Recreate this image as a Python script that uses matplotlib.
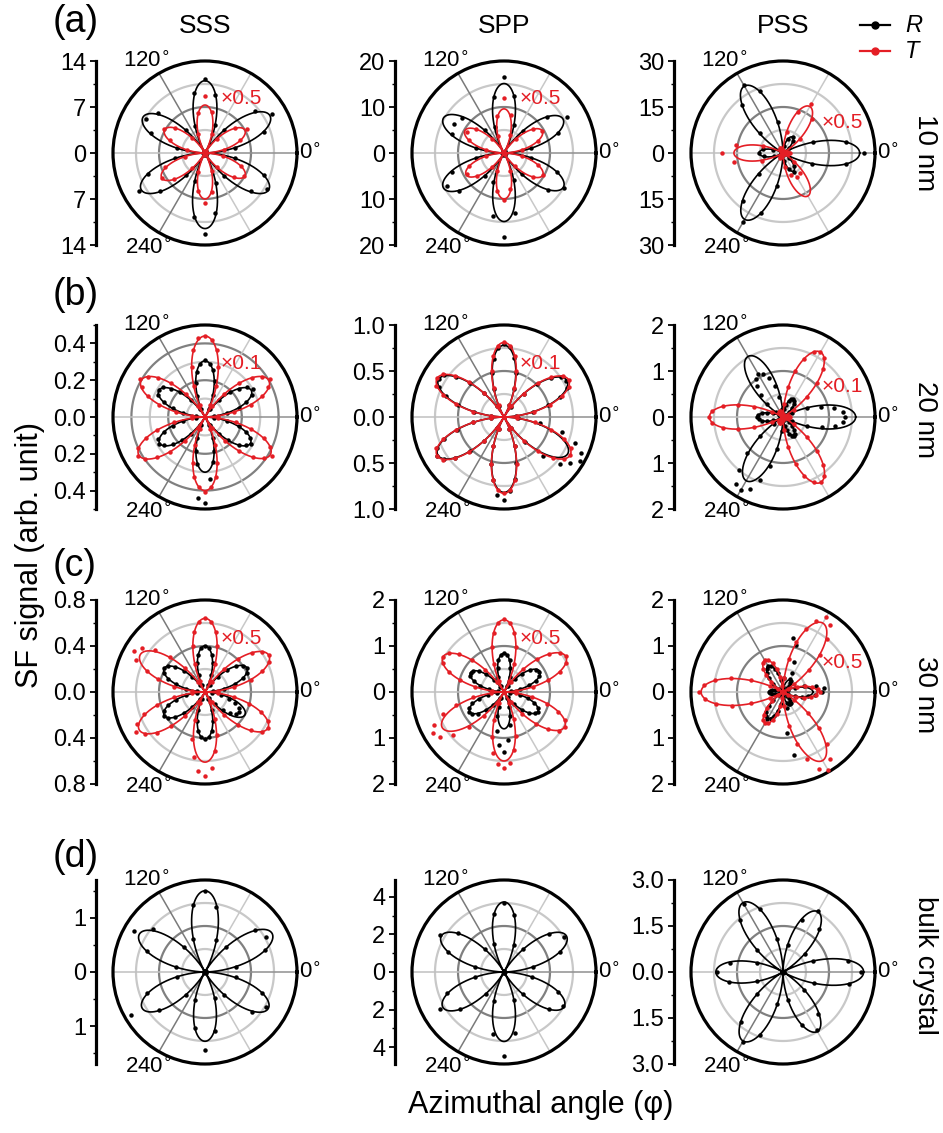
import numpy as np
import matplotlib
matplotlib.use('Agg')
import matplotlib.pyplot as plt
from matplotlib.lines import Line2D
from matplotlib.ticker import FixedLocator

plt.rcParams['font.family'] = ['Liberation Sans', 'DejaVu Sans']

W, H = 943, 1133
RED = '#e41e25'

# angles of the measured points (deg)
ang10 = np.arange(0, 360, 10)
ang5 = np.arange(0, 360, 5)

# fitted petal heights, one per petal (petals every 60 deg from the base angle)
# ---- (a) 10 nm ----
fit_a_sss_R = [11.4, 11.0, 10.9, 11.2, 11.5, 11.2]
fit_a_sss_T = [7.0, 7.3, 7.1, 7.6, 7.0, 7.0]
fit_a_spp_R = [14.8, 15.1, 15.2, 15.2, 14.9, 14.9]
fit_a_spp_T = [9.6, 9.6, 9.8, 9.5, 10.0, 9.7]
fit_a_pss_R = [25.0, 6.0, 25.2, 7.8, 25.0, 6.8]
fit_a_pss_T = [2.0, 17.5, 2.0, 16.0, 2.0, 16.2]

a_sss_R = [0.3, 4.7, 9.5, 11.8, 9.9, 4.6, 0.4, 4.5, 9.0, 11.2, 9.3, 4.4,
           0.2, 4.6, 9.4, 10.4, 8.8, 4.3, 0.3, 4.7, 9.2, 11.6, 9.0, 4.4,
           0.4, 4.6, 9.9, 12.3, 9.2, 4.8, 0.3, 4.5, 9.1, 10.9, 9.6, 4.7]
a_sss_T = [0.2, 2.9, 5.7, 7.3, 6.0, 2.8, 0.3, 3.0, 6.4, 8.6, 6.2, 3.1,
           0.3, 3.0, 5.9, 7.2, 5.7, 2.8, 0.2, 3.1, 6.4, 7.6, 6.1, 3.0,
           0.3, 3.0, 5.9, 7.6, 6.0, 2.9, 0.2, 2.8, 5.7, 6.9, 5.9, 2.8]
a_spp_R = [0.4, 6.0, 12.4, 15.8, 12.2, 6.3, 0.5, 6.4, 12.6, 16.6, 12.3, 6.0,
           0.3, 6.5, 11.9, 12.5, 12.0, 6.1, 0.4, 6.2, 12.1, 14.2, 12.8, 6.4,
           0.5, 6.8, 14.0, 18.2, 13.3, 6.2, 0.4, 6.1, 12.4, 15.0, 12.3, 6.0]
a_spp_T = [0.3, 3.9, 7.9, 9.6, 8.1, 4.1, 0.2, 4.1, 8.3, 12.0, 8.2, 4.0,
           0.3, 4.1, 8.0, 9.3, 8.2, 3.9, 0.3, 4.0, 8.1, 9.2, 7.8, 4.0,
           0.2, 4.2, 8.4, 10.3, 8.0, 4.1, 0.3, 3.8, 8.1, 9.7, 7.8, 4.0]
a_pss_R = [26.5, 21.0, 10.5, 0.5, 2.6, 5.2, 6.2, 5.0, 2.4, 0.8, 10.2, 21.5,
           25.5, 20.6, 10.0, 0.6, 3.3, 6.6, 7.9, 6.4, 3.1, 0.6, 10.4, 20.5,
           26.0, 20.9, 10.8, 0.5, 2.7, 5.6, 7.0, 5.4, 2.6, 0.5, 10.1, 20.8]
a_pss_T = [2.2, 1.7, 0.8, 0.4, 7.2, 14.6, 18.3, 14.2, 7.0, 0.3, 0.9, 1.6,
           2.0, 1.6, 0.8, 0.5, 7.0, 15.5, 19.8, 16.3, 7.4, 0.4, 0.8, 1.7,
           1.8, 1.5, 0.8, 0.3, 4.5, 7.8, 9.0, 8.5, 4.6, 0.4, 0.8, 1.7]

# ---- (b) 20 nm ----
fit_b_sss_R = [0.29, 0.305, 0.29, 0.285, 0.30, 0.285]
fit_b_sss_T = [0.40, 0.44, 0.40, 0.415, 0.40, 0.41]
fit_b_spp_R = [0.79, 0.78, 0.82, 0.83, 0.82, 0.80]
fit_b_spp_T = [0.81, 0.81, 0.84, 0.84, 0.83, 0.83]
fit_b_pss_R = [1.58, 0.45, 1.52, 0.56, 1.60, 0.45]
fit_b_pss_T = [0.15, 1.63, 0.15, 1.60, 0.15, 1.64]

b_sss_R = [0.00, 0.05, 0.12, 0.19, 0.24, 0.28, 0.30, 0.28, 0.24, 0.19, 0.12, 0.05,
           0.00, 0.05, 0.13, 0.20, 0.26, 0.29, 0.31, 0.29, 0.25, 0.19, 0.12, 0.05,
           0.00, 0.05, 0.12, 0.19, 0.24, 0.28, 0.29, 0.28, 0.24, 0.18, 0.12, 0.05,
           0.00, 0.05, 0.12, 0.18, 0.24, 0.28, 0.29, 0.27, 0.23, 0.18, 0.12, 0.05,
           0.00, 0.05, 0.12, 0.19, 0.26, 0.44, 0.47, 0.34, 0.25, 0.19, 0.12, 0.05,
           0.00, 0.05, 0.12, 0.18, 0.24, 0.27, 0.29, 0.27, 0.24, 0.19, 0.12, 0.05]
b_sss_T = [0.00, 0.07, 0.16, 0.26, 0.33, 0.38, 0.41, 0.38, 0.33, 0.26, 0.16, 0.07,
           0.00, 0.07, 0.18, 0.28, 0.37, 0.42, 0.44, 0.43, 0.37, 0.28, 0.18, 0.07,
           0.00, 0.07, 0.16, 0.26, 0.33, 0.38, 0.41, 0.38, 0.33, 0.26, 0.16, 0.07,
           0.00, 0.07, 0.17, 0.27, 0.34, 0.40, 0.42, 0.40, 0.34, 0.27, 0.17, 0.07,
           0.00, 0.07, 0.16, 0.26, 0.33, 0.38, 0.41, 0.38, 0.33, 0.26, 0.16, 0.07,
           0.00, 0.07, 0.17, 0.26, 0.34, 0.39, 0.42, 0.39, 0.34, 0.26, 0.17, 0.07]
b_spp_R = [0.00, 0.13, 0.32, 0.50, 0.65, 0.75, 0.78, 0.76, 0.66, 0.51, 0.33, 0.13,
           0.00, 0.14, 0.32, 0.50, 0.65, 0.76, 0.79, 0.75, 0.64, 0.50, 0.32, 0.13,
           0.00, 0.14, 0.34, 0.53, 0.68, 0.79, 0.82, 0.78, 0.67, 0.52, 0.33, 0.14,
           0.00, 0.14, 0.34, 0.53, 0.69, 0.80, 0.84, 0.80, 0.69, 0.53, 0.34, 0.14,
           0.00, 0.14, 0.34, 0.53, 0.69, 0.85, 0.90, 0.81, 0.68, 0.52, 0.34, 0.14,
           0.00, 0.14, 0.36, 0.60, 0.80, 0.88, 0.95, 0.92, 0.82, 0.65, 0.40, 0.15]
b_spp_T = [0.00, 0.14, 0.33, 0.52, 0.67, 0.78, 0.81, 0.78, 0.67, 0.52, 0.33, 0.14,
           0.00, 0.14, 0.33, 0.52, 0.67, 0.78, 0.81, 0.78, 0.67, 0.52, 0.33, 0.14,
           0.00, 0.14, 0.34, 0.54, 0.70, 0.81, 0.84, 0.81, 0.70, 0.54, 0.34, 0.14,
           0.00, 0.14, 0.34, 0.54, 0.70, 0.81, 0.84, 0.81, 0.70, 0.54, 0.34, 0.14,
           0.00, 0.14, 0.34, 0.53, 0.69, 0.80, 0.83, 0.80, 0.69, 0.53, 0.34, 0.14,
           0.00, 0.14, 0.34, 0.53, 0.69, 0.80, 0.83, 0.80, 0.69, 0.53, 0.34, 0.14]
b_pss_R = [1.35, 1.30, 1.12, 0.86, 0.55, 0.22, 0.02, 0.08, 0.18, 0.29, 0.37, 0.43,
           0.44, 0.42, 0.36, 0.28, 0.18, 0.07, 0.02, 0.18, 0.44, 0.69, 0.90, 1.04,
           1.08, 1.02, 0.88, 0.68, 0.44, 0.18, 0.02, 0.10, 0.23, 0.36, 0.47, 0.54,
           0.56, 0.53, 0.46, 0.35, 0.22, 0.09, 0.03, 0.25, 0.65, 1.10, 1.50, 1.78,
           1.82, 1.72, 1.45, 1.10, 0.70, 0.30, 0.05, 0.08, 0.19, 0.30, 0.39, 0.45,
           0.47, 0.44, 0.38, 0.29, 0.18, 0.07, 0.03, 0.22, 0.55, 0.88, 1.15, 1.32]
b_pss_T = [0.15, 0.14, 0.12, 0.10, 0.06, 0.03, 0.02, 0.28, 0.67, 1.04, 1.35, 1.56,
           1.63, 1.57, 1.35, 1.04, 0.67, 0.28, 0.02, 0.03, 0.06, 0.10, 0.12, 0.14,
           0.15, 0.14, 0.12, 0.10, 0.06, 0.03, 0.02, 0.27, 0.66, 1.02, 1.33, 1.54,
           1.61, 1.54, 1.33, 1.02, 0.66, 0.27, 0.02, 0.03, 0.06, 0.10, 0.12, 0.14,
           0.15, 0.14, 0.12, 0.10, 0.06, 0.03, 0.02, 0.28, 0.67, 1.05, 1.36, 1.57,
           1.64, 1.57, 1.36, 1.05, 0.67, 0.28, 0.02, 0.03, 0.06, 0.10, 0.12, 0.14]

# ---- (c) 30 nm ----
fit_c_sss_R = [0.42, 0.40, 0.41, 0.41, 0.41, 0.40]
fit_c_sss_T = [0.64, 0.64, 0.65, 0.66, 0.61, 0.63]
fit_c_spp_R = [0.90, 0.84, 0.84, 0.86, 0.80, 0.85]
fit_c_spp_T = [1.55, 1.57, 1.53, 1.55, 1.50, 1.52]
fit_c_pss_R = [0.65, 0.30, 0.65, 0.30, 0.65, 0.30]
fit_c_pss_T = [0.75, 1.73, 0.80, 1.78, 0.78, 1.72]

c_sss_R = [0.00, 0.07, 0.17, 0.27, 0.35, 0.40, 0.42, 0.40, 0.35, 0.27, 0.17, 0.07,
           0.00, 0.07, 0.16, 0.26, 0.33, 0.38, 0.40, 0.38, 0.33, 0.26, 0.16, 0.07,
           0.00, 0.07, 0.17, 0.26, 0.34, 0.39, 0.41, 0.39, 0.34, 0.26, 0.17, 0.07,
           0.00, 0.07, 0.17, 0.26, 0.34, 0.39, 0.41, 0.39, 0.34, 0.26, 0.17, 0.07,
           0.00, 0.07, 0.17, 0.26, 0.34, 0.39, 0.41, 0.39, 0.34, 0.26, 0.17, 0.07,
           0.00, 0.06, 0.14, 0.22, 0.28, 0.33, 0.34, 0.33, 0.28, 0.22, 0.14, 0.06]
c_sss_T = [0.00, 0.11, 0.26, 0.41, 0.53, 0.61, 0.64, 0.61, 0.53, 0.41, 0.26, 0.11,
           0.00, 0.11, 0.26, 0.41, 0.53, 0.61, 0.64, 0.61, 0.53, 0.41, 0.26, 0.11,
           0.00, 0.11, 0.27, 0.43, 0.57, 0.67, 0.71, 0.66, 0.54, 0.42, 0.27, 0.11,
           0.00, 0.11, 0.27, 0.43, 0.56, 0.65, 0.69, 0.64, 0.55, 0.42, 0.27, 0.11,
           0.00, 0.11, 0.26, 0.42, 0.57, 0.69, 0.73, 0.66, 0.52, 0.39, 0.25, 0.10,
           0.00, 0.11, 0.26, 0.40, 0.52, 0.60, 0.63, 0.60, 0.52, 0.40, 0.26, 0.11]
c_spp_R = [0.00, 0.15, 0.36, 0.56, 0.73, 0.84, 0.88, 0.84, 0.73, 0.56, 0.36, 0.15,
           0.00, 0.14, 0.35, 0.54, 0.70, 0.81, 0.85, 0.81, 0.70, 0.54, 0.35, 0.14,
           0.00, 0.14, 0.34, 0.54, 0.70, 0.81, 0.84, 0.81, 0.70, 0.54, 0.34, 0.14,
           0.00, 0.15, 0.36, 0.56, 0.73, 0.84, 0.88, 0.84, 0.73, 0.56, 0.36, 0.15,
           0.00, 0.14, 0.34, 0.55, 0.85, 1.15, 1.30, 1.05, 0.72, 0.53, 0.34, 0.14,
           0.00, 0.14, 0.35, 0.54, 0.70, 0.81, 0.85, 0.81, 0.70, 0.54, 0.35, 0.14]
c_spp_T = [0.00, 0.26, 0.64, 1.00, 1.29, 1.49, 1.56, 1.49, 1.29, 1.00, 0.64, 0.26,
           0.00, 0.27, 0.65, 1.01, 1.31, 1.51, 1.58, 1.51, 1.31, 1.01, 0.65, 0.27,
           0.00, 0.26, 0.63, 0.98, 1.27, 1.47, 1.53, 1.47, 1.27, 0.98, 0.63, 0.26,
           0.00, 0.28, 0.68, 1.08, 1.42, 1.68, 1.78, 1.70, 1.44, 1.08, 0.68, 0.28,
           0.00, 0.27, 0.65, 1.02, 1.35, 1.58, 1.66, 1.55, 1.28, 0.98, 0.62, 0.26,
           0.00, 0.26, 0.62, 0.97, 1.26, 1.46, 1.52, 1.46, 1.26, 0.97, 0.62, 0.26]
c_pss_R = [0.85, 0.90, 0.72, 0.48, 0.28, 0.11, 0.02, 0.05, 0.12, 0.19, 0.25, 0.29,
           0.32, 0.45, 0.70, 1.05, 1.20, 0.30, 0.02, 0.11, 0.27, 0.42, 0.54, 0.62,
           0.66, 0.62, 0.54, 0.42, 0.27, 0.11, 0.02, 0.05, 0.12, 0.19, 0.25, 0.29,
           0.30, 0.29, 0.25, 0.19, 0.12, 0.05, 0.02, 0.11, 0.27, 0.43, 0.56, 0.65,
           0.68, 0.64, 0.55, 0.42, 0.27, 0.11, 0.02, 0.90, 1.38, 0.35, 0.25, 0.29,
           0.30, 0.29, 0.25, 0.19, 0.12, 0.05, 0.02, 0.11, 0.27, 0.42, 0.55, 0.70]
c_pss_T = [0.80, 0.76, 0.65, 0.50, 0.32, 0.13, 0.02, 0.30, 0.73, 1.15, 1.50, 1.78,
           1.88, 1.70, 1.45, 1.12, 0.72, 0.30, 0.02, 0.13, 0.33, 0.51, 0.66, 0.77,
           0.80, 0.77, 0.66, 0.51, 0.33, 0.13, 0.02, 0.30, 0.74, 1.16, 1.50, 1.72,
           1.82, 1.70, 1.47, 1.14, 0.73, 0.30, 0.02, 0.13, 0.32, 0.50, 0.65, 0.75,
           0.78, 0.75, 0.65, 0.50, 0.32, 0.13, 0.02, 0.31, 0.75, 1.18, 1.55, 1.85,
           1.95, 1.78, 1.48, 1.12, 0.72, 0.30, 0.02, 0.13, 0.31, 0.48, 0.62, 0.72]

# ---- (d) bulk crystal ----
fit_d_sss = [1.43, 1.50, 1.40, 1.34, 1.28, 1.35]
fit_d_spp = [3.84, 3.73, 3.85, 3.76, 3.70, 3.70]
fit_d_pss = [2.63, 2.27, 2.61, 2.19, 2.60, 2.24]

d_sss = [0.02, 0.58, 1.18, 1.30, 1.20, 0.60, 0.03, 0.62, 1.22, 1.50, 1.26, 0.64,
         0.03, 0.60, 1.25, 1.52, 1.15, 0.55, 0.02, 0.52, 1.15, 1.58, 1.10, 0.56,
         0.02, 0.55, 1.05, 1.45, 1.10, 0.52, 0.03, 0.56, 1.14, 1.30, 1.12, 0.58]
d_spp = [0.05, 1.55, 3.15, 3.70, 3.12, 1.58, 0.05, 1.52, 3.08, 3.65, 3.15, 1.56,
         0.05, 1.60, 3.20, 3.95, 3.15, 1.55, 0.05, 1.55, 3.25, 3.95, 3.05, 1.50,
         0.05, 1.62, 3.35, 4.45, 3.30, 1.56, 0.05, 1.55, 3.10, 3.60, 3.05, 1.50]
d_pss = [2.55, 2.15, 1.05, 0.03, 0.92, 1.85, 2.30, 1.80, 0.90, 0.03, 1.08, 2.18,
         2.55, 2.20, 1.10, 0.03, 0.90, 1.75, 2.15, 1.80, 0.90, 0.03, 1.12, 2.12,
         2.62, 2.18, 1.05, 0.03, 0.92, 1.85, 2.20, 1.80, 0.90, 0.03, 1.08, 2.20]

col_titles = ['SSS', 'SPP', 'PSS']
row_tags = ['(a)', '(b)', '(c)', '(d)']
row_names = ['10 nm', '20 nm', '30 nm', 'bulk crystal']

# row, col, rmax, major ticks, tick labels, rings, petal base angle,
# angles, R data, R fit, T data, T fit, scale label
panels = [
    (0, 0, 14, [14, 7, 0], ['14', '7', '0'], [3.5, 7, 10.5], 30,
     ang10, a_sss_R, fit_a_sss_R, a_sss_T, fit_a_sss_T, '×0.5'),
    (0, 1, 20, [20, 10, 0], ['20', '10', '0'], [5, 10, 15], 30,
     ang10, a_spp_R, fit_a_spp_R, a_spp_T, fit_a_spp_T, '×0.5'),
    (0, 2, 30, [30, 15, 0], ['30', '15', '0'], [7.5, 15, 22.5], 0,
     ang10, a_pss_R, fit_a_pss_R, a_pss_T, fit_a_pss_T, '×0.5'),
    (1, 0, 0.5, [0.4, 0.2, 0.0], ['0.4', '0.2', '0.0'], [0.1, 0.2, 0.3, 0.4], 30,
     ang5, b_sss_R, fit_b_sss_R, b_sss_T, fit_b_sss_T, '×0.1'),
    (1, 1, 1.0, [1.0, 0.5, 0.0], ['1.0', '0.5', '0.0'], [0.25, 0.5, 0.75], 30,
     ang5, b_spp_R, fit_b_spp_R, b_spp_T, fit_b_spp_T, '×0.1'),
    (1, 2, 2, [2, 1, 0], ['2', '1', '0'], [0.5, 1, 1.5], 0,
     ang5, b_pss_R, fit_b_pss_R, b_pss_T, fit_b_pss_T, '×0.1'),
    (2, 0, 0.8, [0.8, 0.4, 0.0], ['0.8', '0.4', '0.0'], [0.2, 0.4, 0.6], 30,
     ang5, c_sss_R, fit_c_sss_R, c_sss_T, fit_c_sss_T, '×0.5'),
    (2, 1, 2, [2, 1, 0], ['2', '1', '0'], [0.5, 1, 1.5], 30,
     ang5, c_spp_R, fit_c_spp_R, c_spp_T, fit_c_spp_T, '×0.5'),
    (2, 2, 2, [2, 1, 0], ['2', '1', '0'], [0.5, 1, 1.5], 0,
     ang5, c_pss_R, fit_c_pss_R, c_pss_T, fit_c_pss_T, '×0.5'),
    (3, 0, 1.7, [1, 0], ['1', '0'], [0.425, 0.85, 1.275], 30,
     ang10, d_sss, fit_d_sss, None, None, None),
    (3, 1, 4.9, [4, 2, 0], ['4', '2', '0'], [1.225, 2.45, 3.675], 30,
     ang10, d_spp, fit_d_spp, None, None, None),
    (3, 2, 3.0, [3.0, 1.5, 0.0], ['3.0', '1.5', '0.0'], [0.75, 1.5, 2.25], 0,
     ang10, d_pss, fit_d_pss, None, None, None),
]

col_x = [205, 504, 783]
row_y = [153, 417, 692, 972]
RP = 92  # polar radius in px

ring_cols = ['#c8c8c8', '#808080']
spokes = [(0, '#909090'), (180, '#c0c0c0'), (60, '#c8c8c8'), (300, '#c8c8c8'),
          (120, '#7a7a7a'), (240, '#7a7a7a')]


def petal_curve(heights, base):
    # six-petal fit: each petal h*|cos 3(phi - centre)|^1.3
    phi = np.radians(np.linspace(0, 360, 1441))
    k = (np.round((np.degrees(phi) - base) / 60) % 6).astype(int)
    ctr = np.radians(base + 60 * k)
    return phi, np.asarray(heights)[k] * np.abs(np.cos(3 * (phi - ctr))) ** 1.3


fig = plt.figure(figsize=(W / 100, H / 100), dpi=100)

for (row, col, rmax, ticks, tlabels, rings, base, ang,
     dR, fR, dT, fT, scale) in panels:
    cx, cy = col_x[col], row_y[row]
    ax = fig.add_axes([(cx - RP) / W, 1 - (cy + RP) / H, 2 * RP / W, 2 * RP / H],
                      projection='polar')
    ax.set_ylim(0, rmax)
    ax.set_xticks([])
    ax.set_yticks([])
    ax.grid(False)
    ax.spines['polar'].set_linewidth(2.3)

    th = np.linspace(0, 2 * np.pi, 361)
    for i, rc in enumerate(rings):
        ax.plot(th, np.full_like(th, rc), color=ring_cols[i % 2], lw=1.6, zorder=1)
    for a, c in spokes:
        ax.plot([np.radians(a)] * 2, [0, rmax], color=c, lw=1.1, zorder=1)

    ax.plot(np.radians(ang), dR, 'o', color='black', ms=3.2, mew=0, zorder=3,
            clip_on=False)
    phi, r = petal_curve(fR, base)
    ax.plot(phi, r, color='black', lw=1.2, zorder=3)
    if dT is not None:
        ax.plot(np.radians(ang), dT, 'o', color=RED, ms=3.2, mew=0, zorder=4,
                clip_on=False)
        phi, r = petal_curve(fT, base)
        ax.plot(phi, r, color=RED, lw=1.2, zorder=4)

    ax.text(1.012, 0.5, '0$^{\\circ}$', transform=ax.transAxes, ha='left',
            va='center', fontsize=16)
    ax.text(0.18, 1.0, '120$^{\\circ}$', transform=ax.transAxes, ha='center',
            va='center', fontsize=16)
    ax.text(0.19, -0.015, '240$^{\\circ}$', transform=ax.transAxes, ha='center',
            va='center', fontsize=16)
    if scale:
        if base == 0:
            fig.text((cx + 39) / W, 1 - (cy - 30) / H, scale, color=RED,
                     fontsize=15, ha='left', va='center')
        else:
            fig.text((cx + 16) / W, 1 - (cy - 54) / H, scale, color=RED,
                     fontsize=15, ha='left', va='center')

    # vertical scale bar to the left of the polar plot
    bx = fig.add_axes([(cx - RP - 17) / W, 1 - (cy + RP) / H, 0.0005, 2 * RP / H])
    bx.set_ylim(-rmax, rmax)
    for s in ['top', 'right', 'bottom']:
        bx.spines[s].set_visible(False)
    bx.spines['left'].set_linewidth(2.3)
    bx.set_xticks([])
    pos, labs = [], []
    for t, l in zip(ticks, tlabels):
        pos.append(t)
        labs.append(l)
        if t != 0:
            pos.append(-t)
            labs.append(l)
    bx.set_yticks(pos)
    bx.set_yticklabels(labs)
    step = ticks[0] - ticks[1]
    mn = np.arange(step / 2, rmax + 1e-9, step)
    bx.yaxis.set_minor_locator(FixedLocator(np.concatenate([mn, -mn])))
    bx.tick_params(axis='y', which='major', length=4, width=1.3, labelsize=17,
                   pad=3)
    bx.tick_params(axis='y', which='minor', length=2.5, width=1.0)

for i, t in enumerate(col_titles):
    fig.text(col_x[i] / W, 1 - 26 / H, t, fontsize=19, ha='center', va='center')
for i, t in enumerate(row_tags):
    fig.text(53 / W, 1 - [22, 295, 566, 857][i] / H, t, fontsize=27,
             ha='left', va='center')
for i, t in enumerate(row_names):
    fig.text(925 / W, 1 - [153, 420, 695, 965][i] / H, t, fontsize=20,
             rotation=-90, ha='center', va='center')

fig.text(541 / W, 1 - 1105 / H, 'Azimuthal angle (φ)', fontsize=22,
         ha='center', va='center')
fig.text(30 / W, 1 - 555 / H, 'SF signal (arb. unit)', fontsize=22,
         rotation=90, ha='center', va='center')

# legend
for yy, c, lab in [(25, 'black', 'R'), (51, RED, 'T')]:
    fig.add_artist(Line2D([860 / W, 890 / W], [1 - yy / H] * 2, color=c, lw=1.6))
    fig.add_artist(Line2D([875 / W], [1 - yy / H], marker='o', ms=5, color=c))
    fig.text(905 / W, 1 - yy / H, lab, fontsize=17, style='italic',
             ha='left', va='center')

fig.savefig('out.png', dpi=100)
